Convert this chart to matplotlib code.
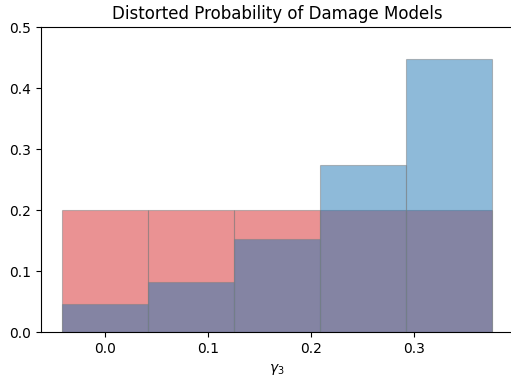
import numpy as np
import matplotlib
matplotlib.use("Agg")
import matplotlib.pyplot as plt

# damage model parameter values and model probabilities
gamma3 = [0.0, 1 / 12, 2 / 12, 3 / 12, 4 / 12]
prior_prob = [0.2, 0.2, 0.2, 0.2, 0.2]
distorted_prob = [0.046, 0.082, 0.152, 0.274, 0.447]

fig = plt.figure(figsize=(5.11, 3.81), dpi=100)
ax = fig.add_axes([0.0802, 0.128, 0.924, 0.801])

width = 1 / 12
ax.bar(gamma3, prior_prob, width=width, color="tab:red", alpha=0.5,
       edgecolor="grey", linewidth=0.8)
ax.bar(gamma3, distorted_prob, width=width, color="tab:blue", alpha=0.5,
       edgecolor="grey", linewidth=0.8)

ax.spines["right"].set_visible(False)
ax.set_ylim(0, 0.5)
ax.set_xticks([0.0, 0.1, 0.2, 0.3])
ax.set_yticks([0.0, 0.1, 0.2, 0.3, 0.4, 0.5])
ax.set_xlabel(r"$\gamma_3$")
ax.set_title("Distorted Probability of Damage Models", fontsize=12)

fig.savefig("out.png", dpi=100)
